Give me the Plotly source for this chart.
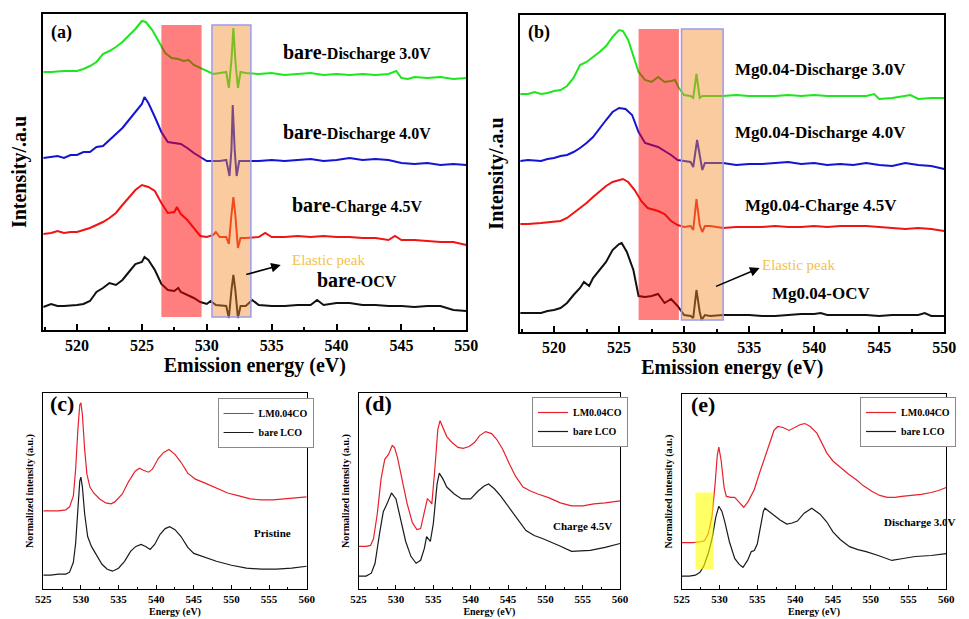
import plotly.graph_objects as go

SERIF = "Liberation Serif"
W, H = 969, 619

# ---------------- (a) bare LCO, emission spectra (stacked, a.u.) ----------------
A_D30_E = [517.4, 518, 519, 520, 520.5, 521, 521.5, 522, 522.5, 523, 523.5, 524, 524.5, 525, 525.3,
           525.8, 526.3, 526.8, 527.3, 527.8, 528.2, 528.6, 529, 529.5, 530, 530.5, 531, 531.5, 531.7,
           531.9, 532.05, 532.2, 532.4, 532.6, 533, 534, 535, 536, 537, 538, 539, 540, 541, 542, 543,
           544, 544.6, 545, 545.5, 546, 547, 548, 549, 550]
A_D30_I = [258, 258, 259, 259, 261, 264, 268, 276, 279, 283, 288, 294, 301, 309, 308,
           300, 288, 277, 272, 271, 269, 270, 265, 262, 259, 256, 257, 258, 242,
           270, 302, 270, 242, 258, 257, 256, 257, 255, 256, 257, 255, 256, 255, 256, 255,
           256, 259, 252, 251, 253, 252, 253, 251, 252]

A_D40_E = [517.4, 518, 518.5, 519, 519.5, 520, 520.5, 521, 521.5, 522, 522.5, 523, 523.5, 524, 524.5,
           525, 525.2, 525.5, 526, 526.5, 527, 527.5, 528, 528.5, 529, 529.5, 530, 530.5, 531, 531.5,
           531.75, 531.9, 532.0, 532.15, 532.3, 532.5, 533, 534, 535, 536, 537, 538, 539, 540, 541,
           542, 543, 544, 545, 546, 547, 548, 549, 550]
A_D40_I = [172, 173, 174, 172, 175, 175, 178, 178, 183, 184, 190, 196, 202, 210, 218,
           226, 233, 227, 213, 198, 188, 187, 186, 182, 177, 173, 169, 169, 169, 170,
           154, 180, 225, 180, 154, 169, 169, 169, 170, 169, 170, 171, 169, 170, 172,
           170, 171, 170, 167, 166, 167, 165, 166, 165]

A_C45_E = [517.4, 518, 518.5, 519, 519.5, 520, 521, 521.5, 522, 522.5, 523, 523.5, 524, 524.5, 525,
           525.5, 526, 526.5, 527, 527.5, 527.7, 528, 528.5, 529, 529.5, 530, 530.5, 530.7, 531, 531.5,
           531.7, 531.9, 532.05, 532.2, 532.4, 532.6, 533, 534, 534.5, 535, 536, 537, 538, 539, 540,
           541, 542, 543, 544, 544.5, 545, 546, 547, 548, 549, 550]
A_C45_I = [96, 97, 99, 97, 98, 98, 102, 105, 108, 112, 117, 125, 133, 140, 145,
           143, 139, 127, 117, 118, 123, 116, 110, 102, 94, 93, 95, 98, 93, 93,
           86, 115, 133, 115, 82, 92, 92, 93, 97, 93, 93, 94, 93, 94, 93,
           93, 92, 92, 90, 94, 90, 90, 89, 88, 88, 85]

A_OCV_E = [517.4, 518, 518.5, 519, 520, 520.5, 521, 521.5, 522, 522.5, 523, 523.5, 524, 524.5, 525,
           525.2, 525.5, 526, 526.5, 527, 527.5, 527.8, 528, 528.5, 529, 529.5, 530, 530.3, 530.7, 531.5,
           531.7, 531.9, 532.05, 532.2, 532.4, 532.6, 533, 533.5, 534, 535, 536, 537, 538, 538.5, 539,
           540, 541, 542, 543, 544, 545, 546, 547, 548, 549, 550]
A_OCV_I = [23, 26, 24, 24, 25, 26, 29, 38, 42, 47, 45, 50, 58, 66, 68,
           73, 70, 60, 46, 40, 39, 42, 38, 35, 32, 28, 26, 29, 25, 24,
           12, 40, 55, 40, 12, 24, 24, 30, 25, 24, 24, 25, 25, 30, 25,
           27, 27, 25, 25, 24, 24, 23, 24, 24, 20, 19]

# ---------------- (b) Mg0.04 doped LCO, emission spectra ----------------
B_D30_E = [517.4, 518, 518.5, 519, 519.5, 520, 520.5, 521, 521.5, 522, 522.5, 523, 523.5, 524, 524.5,
           525, 525.3, 525.7, 526.1, 526.5, 527, 527.5, 528, 528.5, 529, 529.3, 529.6, 530, 530.5, 530.7,
           530.95, 531.2, 531.4, 532, 533, 534, 535, 536, 537, 538, 539, 540, 541, 542, 543,
           544, 544.6, 545, 546, 547, 547.4, 548, 549, 550]
B_D30_I = [238, 238, 240, 238, 239, 241, 242, 246, 254, 267, 270, 275, 280, 286, 295,
           302, 301, 292, 277, 260, 252, 250, 255, 250, 251, 252, 244, 237, 236, 234,
           258, 234, 236, 236, 236, 237, 236, 236, 236, 237, 236, 237, 236, 236, 236,
           236, 238, 233, 234, 236, 237, 233, 234, 234]

B_D40_E = [517.4, 518, 519, 519.5, 520, 520.5, 521, 521.5, 522, 522.5, 523, 523.5, 524, 524.5, 525,
           525.5, 526, 526.5, 527, 527.5, 528, 528.5, 529, 529.5, 530, 530.5, 530.7, 531.0, 531.2, 531.4,
           531.6, 532, 533, 534, 535, 536, 537, 538, 539, 540, 541, 542, 543, 544, 545,
           546, 547, 548, 549, 550]
B_D40_I = [171, 172, 171, 173, 174, 176, 177, 180, 184, 189, 195, 204, 212, 220, 224,
           223, 217, 200, 189, 187, 185, 181, 177, 172, 171, 170, 165, 192, 177, 162,
           169, 169, 169, 167, 168, 168, 169, 170, 168, 169, 167, 168, 167, 169, 167,
           166, 169, 167, 166, 163]

B_C45_E = [517.4, 518, 519, 520, 520.5, 521, 521.5, 522, 522.5, 523, 523.5, 524, 524.5, 525, 525.3,
           525.7, 526.2, 526.7, 527.2, 528, 528.5, 529, 529.5, 530, 530.5, 530.7, 530.95, 531.2, 531.4, 531.6,
           532, 533, 534, 535, 536, 537, 538, 539, 540, 541, 542, 543, 544, 545, 546,
           547, 548, 549, 550]
B_C45_I = [108, 108, 109, 110, 111, 114, 119, 124, 129, 135, 141, 146, 150, 152, 153,
           150, 142, 131, 124, 121, 118, 111, 107, 105, 106, 102, 133, 107, 100, 106,
           106, 104, 105, 105, 105, 106, 105, 105, 106, 105, 106, 106, 106, 105, 104,
           103, 104, 103, 101]

B_OCV_E = [517.4, 518, 519, 519.5, 520, 520.5, 521, 521.5, 522, 522.3, 522.7, 523, 523.5, 524, 524.5,
           525, 525.2, 525.6, 526.1, 526.5, 527, 527.5, 528, 528.5, 529, 529.5, 530, 530.5, 530.7, 530.95,
           531.2, 531.35, 531.6, 532, 533, 534, 535, 536, 537, 538, 539, 540, 540.5, 541, 542,
           543, 544, 545, 546, 547, 548, 548.5, 549, 550]
B_OCV_I = [19, 19, 19, 21, 22, 24, 29, 37, 44, 50, 46, 54, 62, 70, 82,
           88, 89, 80, 62, 36, 35, 36, 38, 29, 33, 26, 17, 16, 14, 42,
           20, 12, 17, 16, 17, 17, 17, 16, 16, 17, 18, 18, 19, 17, 17,
           17, 17, 16, 17, 17, 17, 19, 16, 16]

# ---------------- (c)-(e) O K-edge XAS, normalized intensity ----------------
C_LM_E = [525, 527, 528, 528.5, 529, 529.3, 529.6, 529.85, 530.0, 530.2, 530.5, 530.8, 531.2, 531.7,
          532.5, 533.3, 534, 534.5, 535.5, 536.3, 537.2, 537.8, 538.3, 539, 539.5, 540.3, 541, 541.7,
          542.5, 543.3, 544.2, 545.2, 546.5, 548, 549.5, 551, 552.5, 554, 555.5, 557, 558.5, 560]
C_LM_I = [79, 79, 80, 83, 94, 121, 161, 186, 188, 176, 141, 116, 103, 97,
          91, 87, 86, 88, 96, 108, 119, 122, 120, 118, 121, 132, 138, 141,
          136, 128, 117, 111, 107, 102, 97, 94, 91, 90, 90, 91, 92, 93]
C_BARE_E = [525, 526, 527, 528, 528.5, 529, 529.3, 529.6, 529.85, 530.0, 530.2, 530.5, 530.9, 531.4,
            532, 532.8, 533.5, 534.2, 535, 535.8, 536.6, 537.3, 538, 538.6, 539.2, 539.8, 540.5, 541.2,
            541.8, 542.5, 543.3, 544.2, 545, 546.5, 548, 550, 552, 554, 556, 558, 560]
C_BARE_I = [14, 14, 15, 15, 17, 27, 46, 81, 109, 113, 103, 76, 53, 43,
            35, 25, 20, 18, 21, 28, 38, 43, 45, 43, 40, 45, 55, 61,
            63, 60, 53, 42, 36, 32, 28, 24, 21, 20, 20, 21, 23]

D_LM_E = [525, 526, 526.6, 527, 527.5, 528, 528.5, 529, 529.5, 529.8, 530.2, 530.8, 531.5, 532.2,
          532.8, 533.3, 533.8, 534.2, 534.5, 534.8, 535.2, 535.6, 535.9, 536.3, 536.8, 537.5, 538.3, 539,
          539.8, 540.5, 541.2, 542, 542.8, 543.5, 544.3, 545.2, 546, 547, 548, 549, 550.5, 552,
          553.5, 555, 556.5, 558, 560]
D_LM_I = [43, 43, 44, 51, 76, 111, 131, 136, 145, 143, 133, 111, 86, 67,
          60, 61, 76, 91, 89, 86, 121, 161, 170, 163, 154, 148, 143, 142,
          144, 148, 155, 159, 157, 151, 141, 126, 114, 103, 99, 96, 92, 87,
          84, 84, 86, 87, 89]
D_BARE_E = [525, 526, 526.7, 527.2, 527.8, 528.3, 528.8, 529.4, 530, 530.6, 531.3, 532, 532.7, 533.3,
            533.8, 534.1, 534.6, 535, 535.5, 535.8, 536.3, 536.8, 537.8, 538.8, 540, 541, 541.8, 542.4,
            543.2, 544, 545.5, 547.4, 548.5, 549.6, 551.8, 553.5, 556, 558, 560]
D_BARE_I = [13, 13, 16, 26, 56, 78, 86, 97, 91, 71, 48, 33, 26, 29,
            41, 53, 48, 66, 106, 117, 111, 103, 96, 91, 91, 99, 104, 106,
            101, 94, 78, 59, 54, 51, 44, 38, 39, 42, 46]

E_LM_E = [525, 526.5, 527.5, 528, 528.5, 529, 529.4, 529.7, 529.9, 530.2, 530.6, 530.9, 531.5, 532,
          532.6, 533.2, 533.8, 534.6, 535.3, 535.9, 536.6, 537.2, 537.7, 538.4, 539.2, 540, 540.7, 541.3,
          542, 542.9, 543.6, 544.2, 545, 546, 547, 548.1, 549, 550.2, 551.2, 552.2, 553.2, 554.1,
          555.5, 556.7, 558, 559, 560]
E_LM_I = [47, 47, 48, 49, 56, 74, 106, 136, 144, 131, 103, 94, 93, 93,
          88, 83, 89, 101, 118, 131, 148, 161, 165, 164, 161, 164, 167, 168,
          165, 158, 148, 138, 130, 123, 117, 111, 105, 99, 95, 93, 93, 94,
          95, 96, 98, 100, 103]
E_BARE_E = [525, 526, 526.8, 527.4, 527.9, 528.5, 529, 529.5, 529.9, 530.3, 530.7, 531.3, 532, 532.6,
            533.1, 533.7, 534.2, 534.6, 535, 535.4, 535.8, 536, 536.5, 537.2, 538, 538.9, 539.6, 540.3,
            541.2, 542.2, 543.3, 544.2, 545, 546, 547.2, 548.3, 549.4, 551, 552.8, 554.3, 555.9, 558, 560]
E_BARE_I = [13, 13, 14, 17, 23, 36, 51, 73, 84, 79, 68, 48, 31, 25,
            22, 29, 38, 39, 46, 63, 79, 82, 79, 74, 70, 66, 67, 69,
            77, 82, 76, 68, 58, 50, 43, 40, 38, 34, 29, 31, 33, 34, 36]

TOP_LABELS_A = ["bare-Discharge 3.0V", "bare-Discharge 4.0V", "bare-Charge 4.5V", "bare-OCV"]
TOP_LABELS_B = ["Mg0.04-Discharge 3.0V", "Mg0.04-Discharge 4.0V", "Mg0.04-Charge 4.5V", "Mg0.04-OCV"]
LEGEND_NAMES = ["LM0.04CO", "bare LCO"]
STATE_LABELS = ["Pristine", "Charge 4.5V", "Discharge 3.0V"]

GREEN, BLUE, RED, BLACK = "#1EE61E", "#1414D2", "#F01414", "#111111"
XAS_RED, XAS_BLACK = "#E8202A", "#1A1A1A"


def dom_x(p0, p1):
    return [p0 / W, p1 / W]


def dom_y(p0, p1):
    return [1 - p1 / H, 1 - p0 / H]


fig = go.Figure()

top_sets = [
    ("x", "y", [(A_D30_E, A_D30_I, GREEN), (A_D40_E, A_D40_I, BLUE),
                (A_C45_E, A_C45_I, RED), (A_OCV_E, A_OCV_I, BLACK)]),
    ("x2", "y2", [(B_D30_E, B_D30_I, GREEN), (B_D40_E, B_D40_I, BLUE),
                  (B_C45_E, B_C45_I, RED), (B_OCV_E, B_OCV_I, BLACK)]),
]
for xa, ya, curves in top_sets:
    for e, i, c in curves:
        fig.add_trace(go.Scatter(x=e, y=i, mode="lines", xaxis=xa, yaxis=ya,
                                 line=dict(color=c, width=2), showlegend=False,
                                 hoverinfo="skip"))

bottom_sets = [
    ("x3", "y3", "legend", (C_LM_E, C_LM_I), (C_BARE_E, C_BARE_I)),
    ("x4", "y4", "legend2", (D_LM_E, D_LM_I), (D_BARE_E, D_BARE_I)),
    ("x5", "y5", "legend3", (E_LM_E, E_LM_I), (E_BARE_E, E_BARE_I)),
]
for xa, ya, lg, lm, bare in bottom_sets:
    fig.add_trace(go.Scatter(x=lm[0], y=lm[1], mode="lines", name=LEGEND_NAMES[0],
                             xaxis=xa, yaxis=ya, legend=lg,
                             line=dict(color=XAS_RED, width=1.2)))
    fig.add_trace(go.Scatter(x=bare[0], y=bare[1], mode="lines", name=LEGEND_NAMES[1],
                             xaxis=xa, yaxis=ya, legend=lg,
                             line=dict(color=XAS_BLACK, width=1.2)))


def bold(size, color="black"):
    return dict(family=SERIF, size=size, color=color, weight="bold")


def top_xaxis(dom, anchor):
    return dict(domain=dom, anchor=anchor, range=[517.4, 550], tick0=520, dtick=5,
                ticks="inside", ticklen=6, tickwidth=2, tickcolor="black",
                minor=dict(ticks="inside", ticklen=3, tickwidth=1.5, tickcolor="black", dtick=2.5),
                showline=True, linewidth=2, linecolor="black", mirror=True,
                showgrid=False, zeroline=False, tickfont=bold(16),
                title=dict(text="Emission energy (eV)", font=bold(20), standoff=2))


def top_yaxis(dom, anchor, top):
    return dict(domain=dom, anchor=anchor, range=[0, top], showticklabels=False, ticks="",
                showline=True, linewidth=2, linecolor="black", mirror=True,
                showgrid=False, zeroline=False,
                title=dict(text="Intensity/.a.u", font=bold(20), standoff=9))


def bot_xaxis(dom, anchor):
    return dict(domain=dom, anchor=anchor, range=[525, 560], tick0=525, dtick=5,
                ticks="inside", ticklen=4, tickwidth=1, tickcolor="black",
                minor=dict(ticks="inside", ticklen=2, tickwidth=1, tickcolor="black", dtick=2.5),
                showline=True, linewidth=1, linecolor="black", mirror=True,
                showgrid=False, zeroline=False, tickfont=bold(11),
                title=dict(text="Energy (eV)", font=bold(10), standoff=3))


def bot_yaxis(dom, anchor):
    return dict(domain=dom, anchor=anchor, range=[0, 198], showticklabels=False, ticks="",
                showline=True, linewidth=1, linecolor="black", mirror=True,
                showgrid=False, zeroline=False,
                title=dict(text="Normalized intensity (a.u.)", font=bold(10), standoff=6))


def legend_box(x_px, y_px):
    return dict(x=x_px / W, y=1 - y_px / H, xanchor="left", yanchor="top",
                bgcolor="white", bordercolor="#8A8A8A", borderwidth=1,
                font=bold(10), itemwidth=30, tracegroupgap=0, traceorder="normal")


fig.update_layout(
    width=W, height=H, margin=dict(l=0, r=0, t=0, b=0),
    paper_bgcolor="white", plot_bgcolor="white",
    xaxis=top_xaxis(dom_x(36, 468), "y"),
    yaxis=top_yaxis(dom_y(14, 330), "x", 316),
    xaxis2=top_xaxis(dom_x(523, 956), "y2"),
    yaxis2=top_yaxis(dom_y(15, 332), "x2", 317),
    xaxis3=bot_xaxis(dom_x(36, 305), "y3"),
    yaxis3=bot_yaxis(dom_y(393, 589), "x3"),
    xaxis4=bot_xaxis(dom_x(358, 625), "y4"),
    yaxis4=bot_yaxis(dom_y(393, 589), "x4"),
    xaxis5=bot_xaxis(dom_x(688, 958), "y5"),
    yaxis5=bot_yaxis(dom_y(394, 589), "x5"),
    legend=legend_box(214, 398),
    legend2=legend_box(535, 397),
    legend3=legend_box(870, 397),
)

# highlighted energy windows
shapes = [
    dict(xref="x", yref="y", x0=526.5, x1=529.6, y0=13, y1=305,
         fillcolor="rgba(255,0,0,0.5)", line=dict(width=0)),
    dict(xref="x", yref="y", x0=530.4, x1=533.4, y0=13, y1=305,
         fillcolor="rgba(245,140,40,0.45)", line=dict(color="#9A9AF0", width=1.5)),
    dict(xref="x2", yref="y2", x0=526.5, x1=529.6, y0=12, y1=303,
         fillcolor="rgba(255,0,0,0.5)", line=dict(width=0)),
    dict(xref="x2", yref="y2", x0=529.8, x1=533.0, y0=12, y1=303,
         fillcolor="rgba(245,140,40,0.45)", line=dict(color="#9A9AF0", width=1.5)),
    dict(xref="x5", yref="y5", x0=526.8, x1=529.2, y0=20, y1=98,
         fillcolor="rgba(255,255,0,0.6)", line=dict(width=0)),
]
for s in shapes:
    s["layer"] = "above"
    s["type"] = "rect"
    fig.add_shape(**s)


def curve_label(text, x, y, xa, ya, size=16, lead=None):
    if lead:
        head, tail = text.split("-", 1)
        text = f"<span style='font-size:{lead}px'>{head}</span>-{tail}"
    fig.add_annotation(x=x, y=y, xref=xa, yref=ya, text=text, showarrow=False,
                       font=bold(size), xanchor="center", yanchor="middle")


for txt, yv in zip(TOP_LABELS_A, [278, 198, 125, 50]):
    curve_label(txt, 541.6, yv, "x", "y", size=16, lead=20)
for txt, yv in zip(TOP_LABELS_B, [262, 199, 126, 39]):
    curve_label(txt, 540.5, yv, "x2", "y2", size=17)

# elastic peak markers
for xa, ya, tx, ty, hx, hy, ax, ay in [("x", "y", 539.4, 70, 535.7, 65, -36, 10),
                                       ("x2", "y2", 538.8, 67, 535.8, 64, -45, 19)]:
    fig.add_annotation(x=tx, y=ty, xref=xa, yref=ya, text="Elastic peak", showarrow=False,
                       font=dict(family=SERIF, size=15, color="#F3C24A"))
    fig.add_annotation(x=hx, y=hy, xref=xa, yref=ya, text="", showarrow=True,
                       ax=ax, ay=ay, arrowhead=2, arrowsize=1.2, arrowwidth=1.6,
                       arrowcolor="black")

# panel tags
for tag, xa, ya, x, y, size in [("(a)", "x", "y", 517.85, 298, 18), ("(b)", "x2", "y2", 517.85, 299, 18),
                                ("(c)", "x3", "y3", 525.6, 187, 22), ("(d)", "x4", "y4", 525.6, 187, 22),
                                ("(e)", "x5", "y5", 526.0, 187, 22)]:
    fig.add_annotation(x=x, y=y, xref=xa, yref=ya, text=tag, showarrow=False,
                       font=bold(size), xanchor="left", yanchor="middle")

for txt, xa, ya, x, y in zip(STATE_LABELS, ["x3", "x4", "x5"], ["y3", "y4", "y5"],
                             [555.5, 555.0, 556.5], [57, 64, 68]):
    fig.add_annotation(x=x, y=y, xref=xa, yref=ya, text=txt, showarrow=False,
                       font=bold(11), xanchor="center", yanchor="middle")

fig.write_html("out.html")
